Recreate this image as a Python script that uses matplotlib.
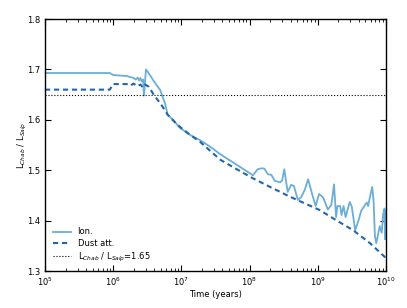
import numpy as np
import matplotlib
matplotlib.use('Agg')
import matplotlib.pyplot as plt

# 数据 (log10 年, 比值)
ion_logt = [5.0, 5.95, 6.0, 6.2, 6.3, 6.33, 6.36, 6.38, 6.4, 6.42, 6.44, 6.45, 6.46, 6.48,
            6.52, 6.6, 6.69, 6.76, 6.8, 6.88, 6.98, 7.13, 7.27, 7.42, 7.57, 7.8, 8.05,
            8.12, 8.18, 8.22, 8.27, 8.32, 8.37, 8.45, 8.48, 8.51, 8.56, 8.61, 8.65, 8.71,
            8.76, 8.81, 8.86, 8.91, 8.97, 9.02, 9.08, 9.15, 9.2, 9.24, 9.27, 9.29, 9.33,
            9.35, 9.38, 9.41, 9.47, 9.5, 9.55, 9.6, 9.64, 9.72, 9.74, 9.77, 9.8, 9.82,
            9.84, 9.86, 9.91, 9.94, 9.96, 9.98, 9.99, 10.0]
ion_ratio = [1.693, 1.693, 1.689, 1.687, 1.683, 1.680, 1.684, 1.678, 1.683, 1.676, 1.680,
             1.648, 1.660, 1.700, 1.693, 1.676, 1.659, 1.633, 1.610, 1.600, 1.584, 1.570,
             1.560, 1.547, 1.532, 1.512, 1.490, 1.502, 1.504, 1.503, 1.492, 1.491, 1.479,
             1.476, 1.480, 1.502, 1.457, 1.471, 1.469, 1.441, 1.447, 1.461, 1.482, 1.457,
             1.429, 1.453, 1.446, 1.422, 1.431, 1.472, 1.407, 1.429, 1.429, 1.411, 1.429,
             1.407, 1.437, 1.428, 1.381, 1.401, 1.420, 1.436, 1.429, 1.449, 1.467, 1.440,
             1.369, 1.355, 1.389, 1.376, 1.413, 1.424, 1.363, 1.420]

dust_logt = [5.0, 5.95, 6.0, 6.2, 6.25, 6.3, 6.35, 6.4, 6.44, 6.47, 6.52, 6.6, 6.69, 6.76,
             6.8, 6.9, 6.98, 7.13, 7.27, 7.57, 7.8, 8.05, 8.3, 8.54, 8.7, 9.03, 9.27, 9.52,
             9.77, 10.0]
dust_ratio = [1.660, 1.660, 1.671, 1.671, 1.668, 1.672, 1.667, 1.670, 1.664, 1.670, 1.666,
              1.649, 1.633, 1.619, 1.610, 1.596, 1.586, 1.570, 1.557, 1.521, 1.503, 1.484,
              1.467, 1.451, 1.441, 1.421, 1.401, 1.381, 1.355, 1.326]

ref_ratio = 1.65

fig = plt.figure(figsize=(4.07, 3.08), dpi=100)
ax = fig.add_axes([0.1106, 0.120, 0.8374, 0.818])

ax.plot(10 ** np.array(ion_logt), ion_ratio, color='#6baed6', lw=1.3, label='Ion.')
ax.plot(10 ** np.array(dust_logt), dust_ratio, color='#2166ac', lw=1.5,
        ls=(0, (2.5, 1.8)), label='Dust att.')
ax.axhline(ref_ratio, color='black', lw=0.8, ls=':',
           label=r'L$_{Chab}$ / L$_{Salp}$=1.65')

ax.set_xscale('log')
ax.set_xlim(1e5, 1e10)
ax.set_ylim(1.3, 1.8)
ax.set_yticks([1.3, 1.4, 1.5, 1.6, 1.7, 1.8])
ax.set_xlabel('Time (years)', fontsize=6, labelpad=1)
ax.set_ylabel(r'L$_{Chab}$ / L$_{Salp}$', fontsize=6, labelpad=-1.5)

ax.tick_params(which='both', direction='in', top=True, right=True, labelsize=6)
ax.tick_params(which='major', length=4)
ax.tick_params(which='minor', length=2)
for s in ax.spines.values():
    s.set_linewidth(1.0)

ax.legend(loc='lower left', frameon=False, fontsize=6, handlelength=2.2,
          labelspacing=0.3)

plt.savefig('out.png', dpi=100)
